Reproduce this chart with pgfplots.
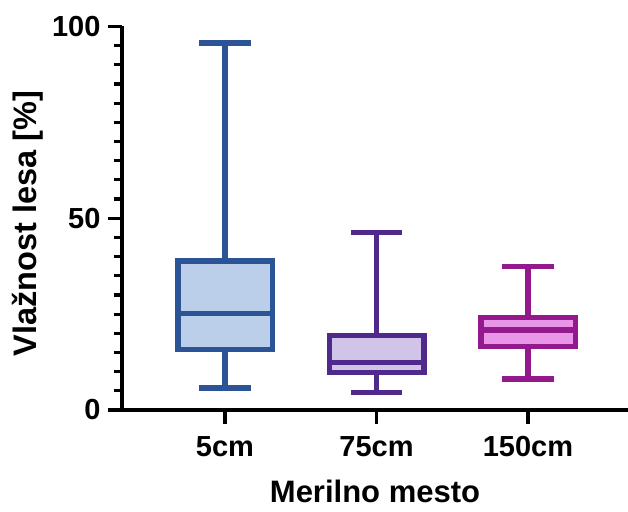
\documentclass[border=0pt]{standalone}
\usepackage{pgfplots}
\pgfplotsset{compat=1.18}
\usepackage{fontspec}
\setmainfont{Liberation Sans}
\definecolor{eA}{RGB}{42,84,150}
\definecolor{fA}{RGB}{188,207,234}
\definecolor{eB}{RGB}{79,42,140}
\definecolor{fB}{RGB}{208,196,232}
\definecolor{eC}{RGB}{147,26,140}
\definecolor{fC}{RGB}{233,150,232}
\begin{document}
\begin{tikzpicture}
\path[use as bounding box] (-122pt,-101pt) rectangle (506pt,410pt);
\begin{axis}[
  at={(0,0)}, anchor=south west,
  scale only axis, width=506pt, height=383.6pt,
  xmin=-0.68, xmax=2.66, ymin=0, ymax=100,
  axis x line=bottom, axis y line=left,
  axis line style={-, line width=3.5pt, black},
  xtick={0,1,2}, xticklabels={5cm,75cm,150cm},
  ytick={0,50,100}, minor ytick={5,10,...,95},
  tick align=outside,
  major tick length=14pt, minor tick length=8pt,
  every tick/.style={line width=3.2pt, black},
  /pgf/number format/assume math mode=true,
  ticklabel style={font=\bfseries\fontsize{29}{34}\selectfont},
  xticklabel style={yshift=-9pt},
  yticklabel style={xshift=-4pt},
  xlabel={Merilno mesto},
  ylabel={Vlažnost lesa [\%]},
  xlabel style={font=\bfseries\fontsize{31}{36}\selectfont, inner sep=0pt, at={(axis description cs:0.5,-0.212)}, anchor=center},
  ylabel style={font=\bfseries\fontsize{32.5}{38}\selectfont, at={(axis description cs:-0.186,0.486)}, anchor=center},
  clip=false,
  every axis plot/.append style={line width=5.5pt, line join=miter, line cap=butt, mark=none},
]
% 5cm: lw=5.8, q1=15.8, med=25.1, q3=38.8, uw=95.7
\addplot[eA] coordinates {(0,38.8) (0,95.7)};
\addplot[eA] coordinates {(-0.1685,95.7) (0.1685,95.7)};
\addplot[eA] coordinates {(0,15.8) (0,5.8)};
\addplot[eA] coordinates {(-0.1685,5.8) (0.1685,5.8)};
\addplot[draw=eA, fill=fA] coordinates {(-0.312,15.8) (0.312,15.8) (0.312,38.8) (-0.312,38.8)} -- cycle;
\addplot[eA] coordinates {(-0.312,25.1) (0.312,25.1)};
% 75cm: lw=4.5, q1=9.8, med=12.4, q3=19.45, uw=46.3
\addplot[eB] coordinates {(1,19.45) (1,46.3)};
\addplot[eB] coordinates {(0.8315,46.3) (1.1685,46.3)};
\addplot[eB] coordinates {(1,9.8) (1,4.5)};
\addplot[eB] coordinates {(0.8315,4.5) (1.1685,4.5)};
\addplot[draw=eB, fill=fB] coordinates {(0.688,9.8) (1.312,9.8) (1.312,19.45) (0.688,19.45)} -- cycle;
\addplot[eB] coordinates {(0.688,12.4) (1.312,12.4)};
% 150cm: lw=8.1, q1=16.6, med=20.8, q3=24.1, uw=37.4
\addplot[eC] coordinates {(2,24.1) (2,37.4)};
\addplot[eC] coordinates {(1.8315,37.4) (2.1685,37.4)};
\addplot[eC] coordinates {(2,16.6) (2,8.1)};
\addplot[eC] coordinates {(1.8315,8.1) (2.1685,8.1)};
\addplot[draw=eC, fill=fC] coordinates {(1.688,16.6) (2.312,16.6) (2.312,24.1) (1.688,24.1)} -- cycle;
\addplot[eC] coordinates {(1.688,20.8) (2.312,20.8)};
\end{axis}
\end{tikzpicture}
\end{document}
